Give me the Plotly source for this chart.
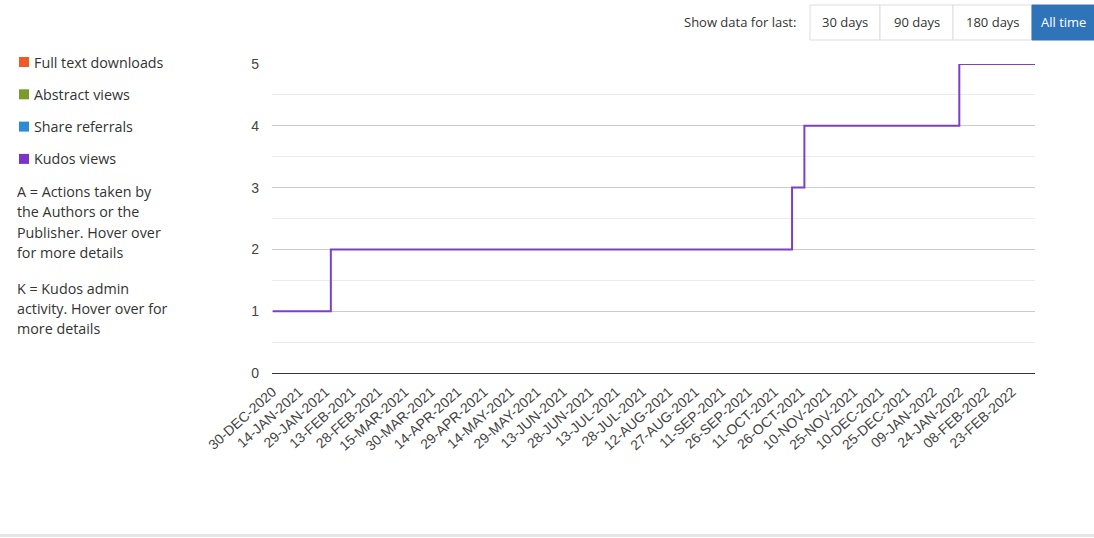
import pandas as pd
import plotly.graph_objects as go

# ---- data ----
tick_labels = ["30-DEC-2020", "14-JAN-2021", "29-JAN-2021", "13-FEB-2021", "28-FEB-2021",
               "15-MAR-2021", "30-MAR-2021", "14-APR-2021", "29-APR-2021", "14-MAY-2021",
               "29-MAY-2021", "13-JUN-2021", "28-JUN-2021", "13-JUL-2021", "28-JUL-2021",
               "12-AUG-2021", "27-AUG-2021", "11-SEP-2021", "26-SEP-2021", "11-OCT-2021",
               "26-OCT-2021", "10-NOV-2021", "25-NOV-2021", "10-DEC-2021", "25-DEC-2021",
               "09-JAN-2022", "24-JAN-2022", "08-FEB-2022", "23-FEB-2022"]

# cumulative Kudos views, dates where the count changes
kudos_dates = ["2020-12-30", "2021-02-01", "2021-10-21", "2021-10-28", "2022-01-24", "2022-03-08"]
kudos_views = [1, 2, 3, 4, 5, 5]

legend_names = ["Full text downloads", "Abstract views", "Share referrals", "Kudos views"]
legend_colors = ["#f05a28", "#7a9a2a", "#2d8ad6", "#7b35c6"]

buttons = ["30 days", "90 days", "180 days", "All time"]

# ---- plot area in pixels (1094x538 window) ----
W, H = 1094, 538
L, R, T, B = 272, 1035, 64, 373


def px(x):
    return (x - L) / (R - L)


def py(y):
    return (B - y) / (B - T)


tickvals = pd.to_datetime(tick_labels, format="%d-%b-%Y")

fig = go.Figure()
fig.add_trace(go.Scatter(x=pd.to_datetime(kudos_dates), y=kudos_views, mode="lines",
                         line=dict(color="#7d3fc4", width=2, shape="hv"),
                         name="Kudos views", showlegend=False))

fig.update_layout(
    width=W, height=H,
    margin=dict(l=L, r=W - R, t=T, b=H - B),
    plot_bgcolor="white", paper_bgcolor="white",
    font=dict(family="Liberation Sans, Arial", color="#444"),
    showlegend=False,
)
fig.update_xaxes(range=[pd.Timestamp("2020-12-29 14:00"), pd.Timestamp("2022-03-08")],
                 tickmode="array", tickvals=tickvals, ticktext=tick_labels,
                 tickangle=-42, tickfont=dict(size=14, color="#444"),
                 ticklabelstandoff=7,
                 showgrid=False, zeroline=False, showline=False, ticks="")
fig.update_yaxes(range=[0, 5], dtick=1, tickfont=dict(size=14, color="#444"),
                 showgrid=True, gridcolor="#cccccc", gridwidth=1,
                 minor=dict(dtick=0.5, showgrid=True, gridcolor="#ebebeb"),
                 zeroline=True, zerolinecolor="#333", zerolinewidth=1,
                 ticklabelstandoff=12, showline=False)

shapes = []
annotations = []
ofont = dict(family="Open Sans, Noto Sans", size=14.3, color="#333")

# legend squares and names
for i, (nm, col) in enumerate(zip(legend_names, legend_colors)):
    yc = 62 + i * 32.3
    shapes.append(dict(type="rect", xref="paper", yref="paper",
                       x0=px(19), x1=px(29), y0=py(yc + 5), y1=py(yc - 5),
                       fillcolor=col, line=dict(width=0)))
    annotations.append(dict(x=px(32), y=py(yc), xref="paper", yref="paper", text=nm,
                            showarrow=False, xanchor="left", yanchor="middle", font=ofont))

notes = [("A = Actions taken by", 191), ("the Authors or the", 211.5), ("Publisher. Hover over", 232),
         ("for more details", 252), ("K = Kudos admin", 288), ("activity. Hover over for", 308),
         ("more details", 328)]
for txt, yc in notes:
    annotations.append(dict(x=px(15), y=py(yc), xref="paper", yref="paper", text=txt,
                            showarrow=False, xanchor="left", yanchor="middle", font=ofont))

# range buttons at the top
annotations.append(dict(x=px(798), y=py(22), xref="paper", yref="paper", text="Show data for last:",
                        showarrow=False, xanchor="right", yanchor="middle",
                        font=dict(family="Open Sans, Noto Sans", size=13, color="#333")))
edges = [810, 880, 953, 1032, 1100]
for i, b in enumerate(buttons):
    active = b == "All time"
    shapes.append(dict(type="rect", xref="paper", yref="paper",
                       x0=px(edges[i]), x1=px(edges[i + 1]), y0=py(40), y1=py(5),
                       fillcolor="#2f73b9" if active else "white",
                       line=dict(color="#2f73b9" if active else "#dddddd", width=1)))
    annotations.append(dict(x=px((edges[i] + min(edges[i + 1], 1094)) / 2), y=py(22.5),
                            xref="paper", yref="paper", text=b, showarrow=False,
                            xanchor="center", yanchor="middle",
                            font=dict(family="Open Sans, Noto Sans", size=13,
                                      color="white" if active else "#333")))

# faint separator at the very bottom
shapes.append(dict(type="line", xref="paper", yref="paper", x0=px(0), x1=px(W),
                   y0=py(535.5), y1=py(535.5), line=dict(color="#e6e6e6", width=3)))

fig.update_layout(shapes=shapes, annotations=annotations)

# the page has a default 8px body margin; drop it so pixels line up with the window
fig.write_html("out.html", config={"displayModeBar": False},
               post_script="document.body.style.margin='0';")
